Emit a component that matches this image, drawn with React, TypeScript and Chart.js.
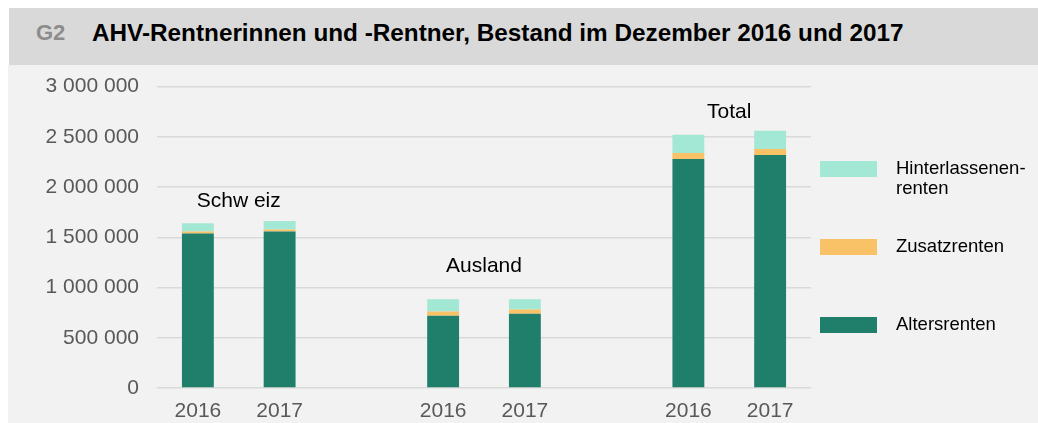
import React, { useEffect, useRef } from 'react';
import { Chart, registerables } from 'chart.js';

Chart.register(...registerables);

const categories = ['2016', '2017', '', '2016', '2017', '', '2016', '2017'];
const groupLabels = ['Schw eiz', 'Ausland', 'Total'];
const seriesNames = ['Altersrenten', 'Zusatzrenten', 'Hinterlassenen-\nrenten'];
const altersrenten = [1537000, 1557000, null, 719000, 739000, null, 2280000, 2320000];
const zusatzrenten = [20000, 21000, null, 43000, 43000, null, 60000, 60000];
const hinterlassenenrenten = [84000, 84000, null, 121000, 101000, null, 180000, 181000];
const yMax = 3000000;
const yStep = 500000;

const colors = ['#207F6A', '#F9C267', '#A3E7D5'];
const FONT = "'Liberation Sans', Arial, sans-serif";
const CANVAS_TOP = 56;
const CANVAS_H = 423 - CANVAS_TOP;

const groupLabelPlugin = {
  id: 'groupLabels',
  afterDatasetsDraw(chart: any) {
    const ctx = chart.ctx;
    const xs = chart.scales.x;
    const offsets = [20, 33, 19];
    ctx.save();
    ctx.font = `21px ${FONT}`;
    ctx.fillStyle = '#000000';
    ctx.textAlign = 'center';
    ctx.textBaseline = 'middle';
    groupLabels.forEach((label, g) => {
      const i0 = g * 3;
      const i1 = g * 3 + 1;
      const x = (xs.getPixelForValue(i0) + xs.getPixelForValue(i1)) / 2;
      const topMeta = chart.getDatasetMeta(chart.data.datasets.length - 1);
      const top = Math.min(topMeta.data[i0].y, topMeta.data[i1].y);
      ctx.fillText(label, x, top - offsets[g]);
    });
    ctx.restore();
  },
};

const legendPlugin = {
  id: 'sideLegend',
  afterDraw(chart: any) {
    const ctx = chart.ctx;
    const ds = chart.data.datasets;
    const area = chart.chartArea;
    ctx.save();
    ctx.font = `18.5px ${FONT}`;
    ctx.textAlign = 'left';
    ctx.textBaseline = 'middle';
    const order = [2, 1, 0];
    const baseTop = 161 - CANVAS_TOP;
    order.forEach((di, r) => {
      const sx = area.right + 9;
      const sy = baseTop + r * 78;
      ctx.fillStyle = ds[di].backgroundColor;
      ctx.fillRect(sx, sy, 57, 16);
      ctx.fillStyle = '#000000';
      const lines = String(ds[di].label).split('\n');
      lines.forEach((ln, li) => {
        ctx.fillText(ln, sx + 76, sy + 8 + li * 19.5);
      });
    });
    ctx.restore();
  },
};

export default function App() {
  const canvasRef = useRef<HTMLCanvasElement | null>(null);

  useEffect(() => {
    if (!canvasRef.current) return;
    const chart = new Chart(canvasRef.current, {
      type: 'bar',
      data: {
        labels: categories,
        datasets: [
          { label: seriesNames[0], data: altersrenten as any, backgroundColor: colors[0] },
          { label: seriesNames[1], data: zusatzrenten as any, backgroundColor: colors[1] },
          { label: seriesNames[2], data: hinterlassenenrenten as any, backgroundColor: colors[2] },
        ],
      },
      options: {
        animation: false,
        responsive: false,
        devicePixelRatio: 1,
        layout: { padding: { left: 0, right: 227, top: 13, bottom: 0 } },
        datasets: { bar: { barPercentage: 0.39, categoryPercentage: 1 } },
        plugins: {
          legend: { display: false },
          tooltip: { enabled: false },
          title: { display: false },
        },
        scales: {
          x: {
            stacked: true,
            grid: { display: false, drawTicks: false },
            border: { display: false },
            ticks: {
              color: '#595959',
              font: { family: FONT, size: 21 },
              padding: 11,
              maxRotation: 0,
              autoSkip: false,
            },
            afterFit(scale: any) {
              scale.height = 35;
            },
          },
          y: {
            stacked: true,
            min: 0,
            max: yMax,
            grid: { color: '#d9d9d9', lineWidth: 1.5, drawTicks: false },
            border: { display: false },
            ticks: {
              stepSize: yStep,
              color: '#595959',
              font: { family: FONT, size: 21 },
              padding: 18,
              callback: (v: any) => String(v).replace(/\B(?=(\d{3})+(?!\d))/g, ' '),
            },
            afterFit(scale: any) {
              scale.width = 157;
            },
          },
        },
      },
      plugins: [groupLabelPlugin, legendPlugin],
    });
    return () => chart.destroy();
  }, []);

  return (
    <div style={{ position: 'absolute', left: 0, top: 0, width: 1038, height: 423, background: '#ffffff', overflow: 'hidden' }}>
      <div
        style={{
          position: 'absolute',
          left: 9,
          top: 8,
          width: 1029,
          height: 57,
          background: '#d9d9d9',
          fontFamily: FONT,
          fontWeight: 'bold',
        }}
      >
        <span style={{ position: 'absolute', left: 27, top: 12, lineHeight: '26px', fontSize: 22, color: '#8c8c8c' }}>G2</span>
        <span style={{ position: 'absolute', left: 83, top: 12, lineHeight: '26px', fontSize: 24.3, color: '#000000' }}>
          AHV-Rentnerinnen und -Rentner, Bestand im Dezember 2016 und 2017
        </span>
      </div>
      <div style={{ position: 'absolute', left: 8, top: 65, width: 1030, height: 358, background: '#f2f2f2' }} />
      <canvas
        ref={canvasRef}
        width={1038}
        height={CANVAS_H}
        style={{ position: 'absolute', left: 0, top: CANVAS_TOP, width: 1038, height: CANVAS_H }}
      />
    </div>
  );
}
